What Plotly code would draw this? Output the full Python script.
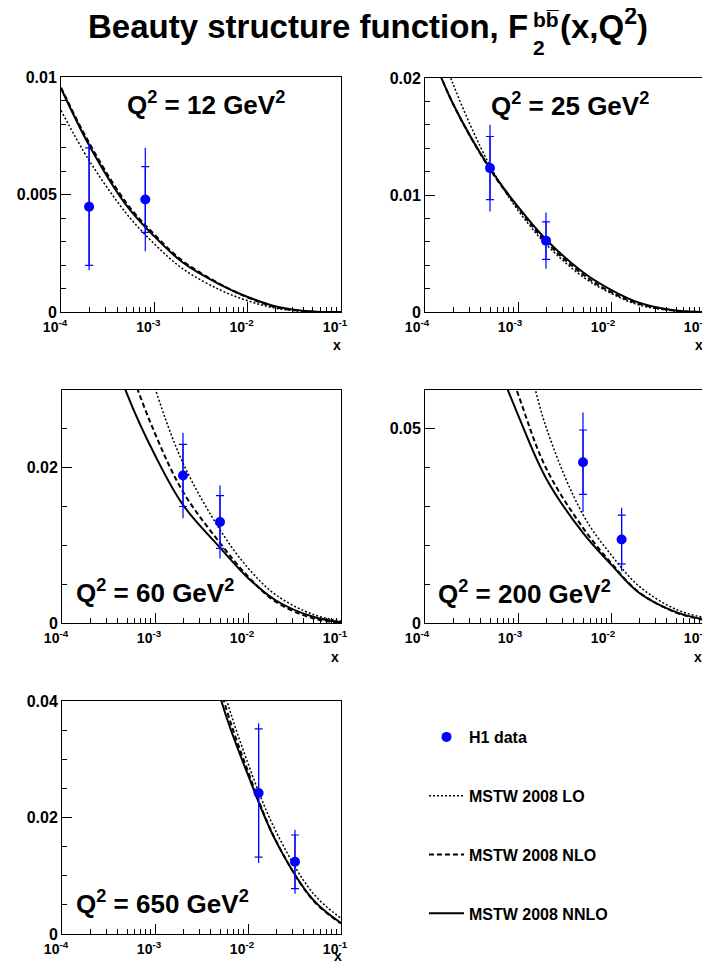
import plotly.graph_objects as go

W, H = 710, 963

# ---------------- data ----------------
Q2_LABELS = ["12", "25", "60", "200", "650"]

H1_X = [[0.0002, 0.0008], [0.0005, 0.002], [0.002, 0.005], [0.005, 0.013], [0.013, 0.032]]
H1_F2 = [[0.00448, 0.00479], [0.0123, 0.0061], [0.0190, 0.0130], [0.0414, 0.0215], [0.0242, 0.0124]]
H1_STAT = [[0.0025, 0.0014], [0.0027, 0.0016], [0.0040, 0.0034], [0.0083, 0.0063], [0.0110, 0.0046]]
H1_TOT = [[0.0027, 0.0022], [0.0037, 0.0024], [0.0055, 0.0047], [0.0128, 0.0082], [0.0120, 0.0055]]

X_GRID = [1e-4, 2e-4, 5e-4, 1e-3, 2e-3, 5e-3, 1e-2, 2e-2, 5e-2, 1e-1]

MSTW_LO = [
    [0.00858, 0.00645, 0.00420, 0.00290, 0.00185, 0.00095, 0.00048, 0.00016, 0.00000, 0.0],
    [0.0265, 0.0195, 0.0125, 0.0087, 0.0058, 0.0030, 0.0016, 0.0006, 0.00008, 0.0],
    [0.075, 0.060, 0.042, 0.0302, 0.0206, 0.0120, 0.0071, 0.0036, 0.0011, 0.00025],
    [0.15, 0.13, 0.100, 0.078, 0.0505, 0.0279, 0.0176, 0.0095, 0.0035, 0.0014],
    [0.22, 0.19, 0.15, 0.12, 0.080, 0.0445, 0.0293, 0.0176, 0.0070, 0.0027],
]
MSTW_NLO = [
    [0.00955, 0.00720, 0.00465, 0.00330, 0.00218, 0.00120, 0.00062, 0.00021, 0.00001, 0.0],
    [0.0236, 0.0178, 0.0122, 0.0089, 0.0060, 0.0032, 0.0017, 0.0007, 0.0001, 0.0],
    [0.065, 0.050, 0.034, 0.0244, 0.0169, 0.0103, 0.0060, 0.0027, 0.0006, 0.0],
    [0.13, 0.11, 0.080, 0.0590, 0.0399, 0.0245, 0.0155, 0.0079, 0.0027, 0.0008],
    [0.21, 0.18, 0.14, 0.11, 0.075, 0.0425, 0.0279, 0.0160, 0.0058, 0.0018],
]
MSTW_NNLO = [
    [0.00952, 0.00710, 0.00455, 0.00322, 0.00212, 0.00118, 0.00064, 0.00024, 0.00002, 0.0],
    [0.0235, 0.0178, 0.01226, 0.0090, 0.0062, 0.0034, 0.0019, 0.0008, 0.00012, 0.0],
    [0.060, 0.044, 0.0295, 0.0216, 0.0152, 0.0097, 0.0058, 0.0029, 0.0008, 0.0001],
    [0.12, 0.10, 0.072, 0.0536, 0.0373, 0.0232, 0.0151, 0.0078, 0.0028, 0.0009],
    [0.20, 0.17, 0.13, 0.10, 0.070, 0.0408, 0.0273, 0.0159, 0.0059, 0.0019],
]

Y_MAX = [0.01, 0.02, 0.03, 0.06, 0.04]
Y_TICKS = [[0, 0.005, 0.01], [0, 0.01, 0.02], [0, 0.02], [0, 0.05], [0, 0.02, 0.04]]
Y_TICKTEXT = [["0", "0.005", "0.01"], ["0", "0.01", "0.02"], ["0", "0.02"], ["0", "0.05"], ["0", "0.02", "0.04"]]
Y_MINOR_STEP = [0.001, 0.002, 0.005, 0.01, 0.005]

X_TICKS = [1e-4, 1e-3, 1e-2, 1e-1]
X_TICKTEXT = ["10<sup>-4</sup>", "10<sup>-3</sup>", "10<sup>-2</sup>", "10<sup>-1</sup>"]

LEGEND_NAMES = ["H1 data", "MSTW 2008 LO", "MSTW 2008 NLO", "MSTW 2008 NNLO"]

# ---------------- layout helpers (pixel boxes) ----------------
PANELS_PX = [  # left, right, top, bottom
    (53, 333, 69, 304),
    (417, 696, 70, 304),
    (54, 333, 382, 615),
    (417, 696, 382, 615),
    (54, 333, 693, 926),
]
Q2_POS = [(117, 108), (481, 109), (66, 596), (428, 597), (66, 907)]
XT_POS = [(329, 327), (691, 327), (327, 639), (690, 639), (330, 938)]
XLABEL_SHIFT = [-6, -8, -6, -8, -6]

FONT = "Liberation Sans, Arial, Helvetica, sans-serif"
BLUE = "#0000ff"


def px(x):
    return x / W


def py(y):
    return 1 - y / H


fig = go.Figure()

for i in range(5):
    n = i + 1
    xa = "x" if n == 1 else f"x{n}"
    ya = "y" if n == 1 else f"y{n}"
    show = i == 0
    # curves
    for vals, dash, width, name in [
        (MSTW_LO[i], "2px,2px", 1.5, LEGEND_NAMES[1]),
        (MSTW_NLO[i], "5px,3px", 2, LEGEND_NAMES[2]),
        (MSTW_NNLO[i], "solid", 2, LEGEND_NAMES[3]),
    ]:
        fig.add_trace(go.Scatter(
            x=X_GRID, y=vals, mode="lines", xaxis=xa, yaxis=ya,
            line=dict(color="black", width=width, dash=dash, shape="spline", smoothing=1.0),
            name=name, legendgroup=name, showlegend=show,
            legendrank={LEGEND_NAMES[1]: 2, LEGEND_NAMES[2]: 3, LEGEND_NAMES[3]: 4}[name],
        ))
    # total errors
    fig.add_trace(go.Scatter(
        x=H1_X[i], y=H1_F2[i], mode="markers", xaxis=xa, yaxis=ya,
        marker=dict(size=1, color=BLUE),
        error_y=dict(type="data", array=H1_TOT[i], color=BLUE, thickness=1.2, width=0),
        showlegend=False, hoverinfo="skip",
    ))
    # stat errors + points
    fig.add_trace(go.Scatter(
        x=H1_X[i], y=H1_F2[i], mode="markers", xaxis=xa, yaxis=ya,
        marker=dict(size=10, color=BLUE, symbol="circle"),
        error_y=dict(type="data", array=H1_STAT[i], color=BLUE, thickness=1.2, width=4),
        name=LEGEND_NAMES[0], legendgroup=LEGEND_NAMES[0], showlegend=show, legendrank=1,
    ))

    l, r, t, b = PANELS_PX[i]
    minor_x = [k * 10 ** e for e in (-4, -3, -2) for k in range(2, 10)]
    step = Y_MINOR_STEP[i]
    nminor = int(round(Y_MAX[i] / step))
    minor_y = [j * step for j in range(1, nminor + 1)]
    xfont = dict(family=FONT, size=14, color="black", weight="bold")
    yfont = dict(family=FONT, size=16, color="black", weight="bold")
    fig.layout[("xaxis" if n == 1 else f"xaxis{n}")] = dict(
        domain=[px(l), px(r)], anchor=ya, type="log", range=[-4, -1], automargin=False,
        tickvals=X_TICKS, ticktext=X_TICKTEXT, ticks="inside", ticklen=10,
        tickcolor="black", tickwidth=1, tickfont=xfont,
        ticklabelstandoff=2, ticklabelshift=XLABEL_SHIFT[i],
        minor=dict(tickvals=minor_x, ticks="inside", ticklen=5, tickcolor="black", tickwidth=1),
        showline=True, mirror=True, linecolor="black", linewidth=1,
        showgrid=False, zeroline=False, fixedrange=True,
    )
    fig.layout[("yaxis" if n == 1 else f"yaxis{n}")] = dict(
        domain=[py(b), py(t)], anchor=xa, range=[0, Y_MAX[i]], automargin=False,
        tickvals=Y_TICKS[i], ticktext=Y_TICKTEXT[i], ticks="inside", ticklen=10,
        tickcolor="black", tickwidth=1, tickfont=yfont,
        minor=dict(tickvals=minor_y, ticks="inside", ticklen=5, tickcolor="black", tickwidth=1),
        showline=True, mirror=True, linecolor="black", linewidth=1,
        showgrid=False, zeroline=False, fixedrange=True,
    )

annotations = []
for i in range(5):
    qx, qy = Q2_POS[i]
    annotations.append(dict(
        text=f"<b>Q<sup>2</sup> = {Q2_LABELS[i]} GeV<sup>2</sup></b>",
        x=px(qx), y=py(qy), xref="paper", yref="paper", xanchor="left", yanchor="bottom",
        yshift=-6, showarrow=False, font=dict(family=FONT, size=26, color="black"),
    ))
    tx, ty = XT_POS[i]
    annotations.append(dict(
        text="<b>x</b>", x=px(tx), y=py(ty), xref="paper", yref="paper",
        xanchor="center", yanchor="top", showarrow=False,
        font=dict(family=FONT, size=14, color="black"),
    ))

# title pieces
TF = 33
annotations.append(dict(
    text="<b>Beauty structure function, F</b>", x=px(522), y=py(31), xref="paper", yref="paper",
    xanchor="right", yanchor="bottom", yshift=-8, showarrow=False,
    font=dict(family=FONT, size=TF, color="black"),
))
annotations.append(dict(
    text="<b>bb\u0305</b>", x=px(523), y=py(20), xref="paper", yref="paper",
    xanchor="left", yanchor="bottom", yshift=-5, showarrow=False,
    font=dict(family=FONT, size=21, color="black"),
))
annotations.append(dict(
    text="<b>2</b>", x=px(523), y=py(48), xref="paper", yref="paper",
    xanchor="left", yanchor="bottom", yshift=-5, showarrow=False,
    font=dict(family=FONT, size=21, color="black"),
))
annotations.append(dict(
    text="<b>(x,Q<sup>2</sup>)</b>", x=px(550), y=py(31), xref="paper", yref="paper",
    xanchor="left", yanchor="bottom", yshift=-8, showarrow=False,
    font=dict(family=FONT, size=TF, color="black"),
))

fig.update_layout(
    width=W, height=H, autosize=False,
    margin=dict(l=0, r=0, t=0, b=0, autoexpand=False),
    paper_bgcolor="white", plot_bgcolor="white",
    font=dict(family=FONT, color="black"),
    annotations=annotations,
    showlegend=True,
    legend=dict(
        x=px(416), y=py(712), xanchor="left", yanchor="top",
        traceorder="grouped", tracegroupgap=35, itemwidth=35,
        font=dict(family=FONT, size=16, color="black", weight="bold"),
        bgcolor="rgba(0,0,0,0)", borderwidth=0,
    ),
)

fig.write_html("out.html")
